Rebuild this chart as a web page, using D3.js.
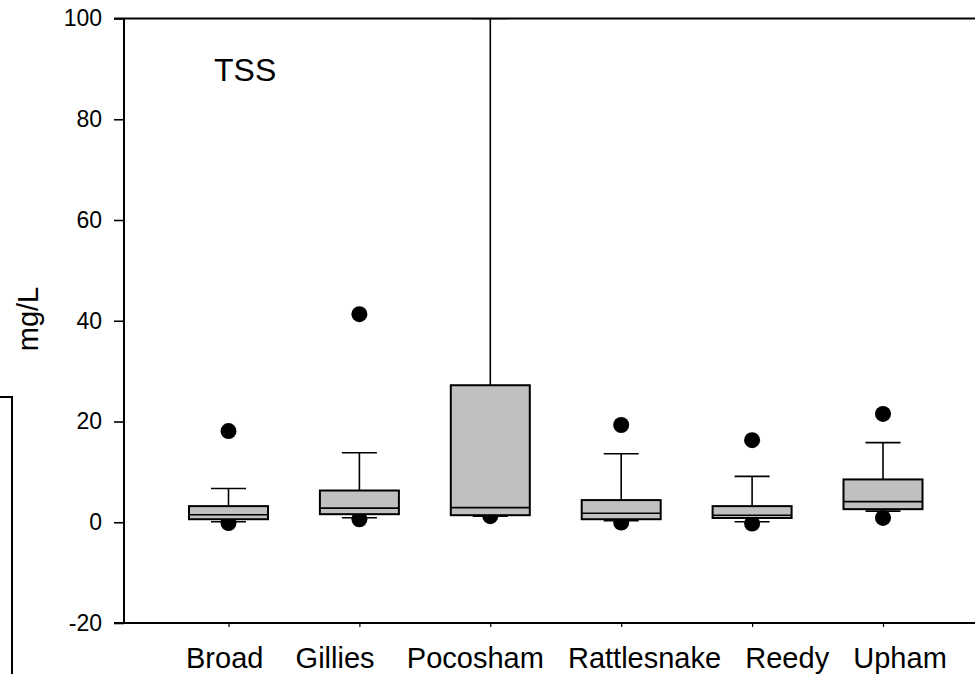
<!DOCTYPE html>
<html>
<head>
<meta charset="utf-8">
<script src="https://cdn.jsdelivr.net/npm/d3@7"></script>
<style>
  html, body { margin: 0; padding: 0; background: #fff; }
  svg { display: block; font-family: "Liberation Sans", Arial, sans-serif; }
</style>
</head>
<body>
<svg id="chart" width="975" height="674"></svg>
<script>
// ---- data ----
const categories   = ["Broad", "Gillies", "Pocosham", "Rattlesnake", "Reedy", "Upham"];
const whiskerLow   = [0.1, 0.9, 1.2, 0.3, 0.1, 2.2];
const q1           = [0.6, 1.6, 1.4, 0.6, 0.85, 2.6];
const median       = [1.5, 2.8, 2.9, 1.8, 1.4, 4.1];
const q3           = [3.2, 6.3, 27.2, 4.4, 3.2, 8.5];
const whiskerHigh  = [6.7, 13.8, 100, 13.6, 9.1, 15.8];
const outlierHigh  = [18.1, 41.3, null, 19.3, 16.3, 21.5];
const outlierLow   = [-0.15, 0.6, 1.2, -0.05, -0.25, 0.85];
const yTicks       = [-20, 0, 20, 40, 60, 80, 100];
const yDomain      = [-20, 100];
const panelTitle   = "TSS";
const yLabel       = "mg/L";

(function () {
// ---- layout ----
const W = 975, H = 674;
const mLeft = 124, mTop = 18.5, mBottom = 623, mRight = 990;
const svg = d3.select("#chart");

const y = d3.scaleLinear().domain(yDomain).range([mBottom, mTop]);
const x = d3.scalePoint().domain(categories).range([228.5, 883]);

const boxW = 79, capW = 35, dotR = 8;

// clip
svg.append("defs").append("clipPath").attr("id", "plotclip")
  .append("rect").attr("x", mLeft).attr("y", mTop).attr("width", mRight - mLeft).attr("height", mBottom - mTop);

// stray frame fragment from neighbouring panel at left
svg.append("path")
  .attr("d", d3.line()([[0, 397], [12, 397], [12, H]]))
  .attr("fill", "none").attr("stroke", "#000").attr("stroke-width", 2);

// frame: top line
svg.append("line").attr("x1", mLeft - 10).attr("x2", W).attr("y1", mTop).attr("y2", mTop)
  .attr("stroke", "#000").attr("stroke-width", 2);

// y axis
const yAxis = svg.append("g").attr("transform", `translate(${mLeft},0)`)
  .call(d3.axisLeft(y).tickValues(yTicks).tickSize(10).tickPadding(12).tickFormat(d => String(d)));
yAxis.select(".domain").attr("stroke-width", 2).attr("d", `M0,${mTop}V${mBottom}`);
yAxis.selectAll(".tick line").attr("stroke-width", 1.6);
yAxis.selectAll(".tick text").attr("font-size", 23).attr("font-family", "Liberation Sans, Arial, sans-serif").attr("fill", "#000");

// x axis (ticks at category centres; labels written as one spaced line below)
const xAxis = svg.append("g").attr("transform", `translate(0,${mBottom})`)
  .call(d3.axisBottom(x).tickSize(4).tickFormat(""));
xAxis.select(".domain").attr("stroke-width", 2).attr("d", `M${mLeft - 10},0H${W}`);
xAxis.selectAll(".tick line").attr("stroke-width", 1.2);

const gaps = [4, 4, 3, 3, 3];
const labelLine = categories.reduce((s, c, i) => i === 0 ? c : s + " ".repeat(gaps[i - 1]) + c, "");
svg.append("text")
  .attr("x", 186).attr("y", 668)
  .attr("font-size", 29).attr("fill", "#000")
  .style("white-space", "pre")
  .text(labelLine);

// boxes
const data = categories.map((c, i) => ({
  c, lo: whiskerLow[i], q1: q1[i], med: median[i], q3: q3[i], hi: whiskerHigh[i],
  oh: outlierHigh[i], ol: outlierLow[i]
}));

const g = svg.append("g").attr("clip-path", "url(#plotclip)");
const box = g.selectAll(".box").data(data).join("g").attr("class", "box");

// lower outlier drawn first (box overlaps it)
box.filter(d => d.ol != null).append("circle")
  .attr("cx", d => x(d.c)).attr("cy", d => y(d.ol)).attr("r", dotR).attr("fill", "#000");

// whiskers
box.append("line")
  .attr("x1", d => x(d.c)).attr("x2", d => x(d.c))
  .attr("y1", d => y(d.q3)).attr("y2", d => y(d.hi))
  .attr("stroke", "#000").attr("stroke-width", 1.6);
box.append("line")
  .attr("x1", d => x(d.c) - capW / 2).attr("x2", d => x(d.c) + capW / 2)
  .attr("y1", d => y(d.hi)).attr("y2", d => y(d.hi))
  .attr("stroke", "#000").attr("stroke-width", 1.6);
box.append("line")
  .attr("x1", d => x(d.c)).attr("x2", d => x(d.c))
  .attr("y1", d => y(d.q1)).attr("y2", d => y(d.lo))
  .attr("stroke", "#000").attr("stroke-width", 1.6);
box.append("line")
  .attr("x1", d => x(d.c) - capW / 2).attr("x2", d => x(d.c) + capW / 2)
  .attr("y1", d => y(d.lo)).attr("y2", d => y(d.lo))
  .attr("stroke", "#000").attr("stroke-width", 1.6);

// box body
box.append("rect")
  .attr("x", d => x(d.c) - boxW / 2).attr("width", boxW)
  .attr("y", d => y(d.q3)).attr("height", d => y(d.q1) - y(d.q3))
  .attr("fill", "#c0c0c0").attr("stroke", "#000").attr("stroke-width", 2);
box.append("line")
  .attr("x1", d => x(d.c) - boxW / 2).attr("x2", d => x(d.c) + boxW / 2)
  .attr("y1", d => y(d.med)).attr("y2", d => y(d.med))
  .attr("stroke", "#000").attr("stroke-width", 1.6);

// upper outliers
box.filter(d => d.oh != null).append("circle")
  .attr("cx", d => x(d.c)).attr("cy", d => y(d.oh)).attr("r", dotR).attr("fill", "#000");

// title inside panel
svg.append("text").attr("x", 214).attr("y", 81).attr("font-size", 32).attr("fill", "#000").text(panelTitle);

// y label
svg.append("text")
  .attr("transform", `translate(38,319) rotate(-90)`)
  .attr("text-anchor", "middle").attr("font-size", 29).attr("fill", "#000").text(yLabel);
})();
</script>
</body>
</html>
